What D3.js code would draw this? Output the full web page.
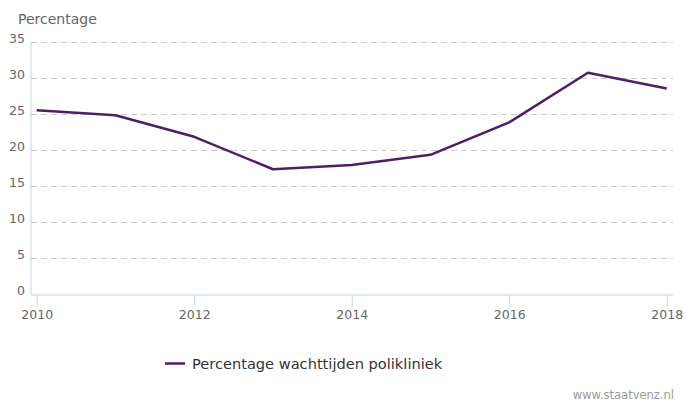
<!DOCTYPE html>
<html lang="nl">
<head>
<meta charset="utf-8">
<title>Percentage wachttijden polikliniek</title>
<script src="https://cdn.jsdelivr.net/npm/d3@7"></script>
<style>
  body { margin: 0; background: #fff; }
  svg { display: block; font-family: "DejaVu Sans", Verdana, sans-serif; }
</style>
</head>
<body>
<svg id="chart" width="686" height="401"></svg>
<script>
// data
var years = [2010, 2011, 2012, 2013, 2014, 2015, 2016, 2017, 2018];
var values = [25.6, 24.9, 21.9, 17.4, 18.0, 19.4, 23.9, 30.8, 28.6];
var yTicks = [0, 5, 10, 15, 20, 25, 30, 35];
var xTicks = [2010, 2012, 2014, 2016, 2018];
var seriesName = "Percentage wachttijden polikliniek";

var svg = d3.select("#chart");

var x = d3.scaleLinear().domain([2010, 2018]).range([36.7, 666.7]);
var y = d3.scaleLinear().domain([0, 35]).range([294.5, 42.5]);

var plotLeft = 31, plotRight = 673;

// - dashed gridlines
svg.append("g").selectAll("line")
    .data(yTicks.filter(function(d) { return d > 0; }))
    .join("line")
    .attr("x1", plotLeft).attr("x2", plotRight)
    .attr("y1", function(d) { return y(d); })
    .attr("y2", function(d) { return y(d); })
    .attr("stroke", "#cccccc")
    .attr("stroke-width", 1)
    .attr("stroke-dasharray", "6,4");

// - y axis line + labels
svg.append("line")
    .attr("x1", plotLeft).attr("x2", plotLeft)
    .attr("y1", y(35)).attr("y2", y(0))
    .attr("stroke", "#c4d4e4").attr("stroke-width", 1);

svg.append("g").selectAll("text")
    .data(yTicks)
    .join("text")
    .attr("x", 25)
    .attr("y", function(d) { return y(d) + 0.5; })
    .attr("text-anchor", "end")
    .attr("fill", "#666")
    .style("font-size", "12.5px")
    .text(function(d) { return d; });

svg.append("text")
    .attr("x", 18).attr("y", 24)
    .attr("fill", "#666")
    .style("font-size", "14px")
    .text("Percentage");

// - x axis via d3.axisBottom
var xAxis = svg.append("g")
    .attr("transform", "translate(0," + (y(0) + 0.5) + ")")
    .call(d3.axisBottom(x).tickValues(xTicks).tickFormat(d3.format("d"))
        .tickSize(11).tickPadding(4).tickSizeOuter(0));
xAxis.select(".domain")
    .attr("d", "M" + plotLeft + ",0H" + plotRight)
    .attr("stroke", "#c4d4e4");
xAxis.selectAll(".tick line").attr("stroke", "#c4d4e4");
xAxis.selectAll(".tick text")
    .attr("fill", "#666")
    .style("font-size", "12.5px")
    .style("font-family", "'DejaVu Sans', Verdana, sans-serif");

// - the series line
var line = d3.line()
    .x(function(d, i) { return x(years[i]); })
    .y(function(d) { return y(d); });

svg.append("path")
    .datum(values)
    .attr("d", line)
    .attr("fill", "none")
    .attr("stroke", "#4b2068")
    .attr("stroke-width", 2.5)
    .attr("stroke-linejoin", "round");

// - legend
svg.append("line")
    .attr("x1", 165).attr("x2", 185)
    .attr("y1", 363.5).attr("y2", 363.5)
    .attr("stroke", "#4b2068").attr("stroke-width", 2.5);
svg.append("text")
    .attr("x", 192).attr("y", 369)
    .attr("fill", "#333")
    .style("font-size", "14.6px")
    .text(seriesName);

// - credit
svg.append("text")
    .attr("x", 674).attr("y", 399)
    .attr("text-anchor", "end")
    .attr("fill", "#999")
    .style("font-size", "11.5px")
    .text("www.staatvenz.nl");
</script>
</body>
</html>
